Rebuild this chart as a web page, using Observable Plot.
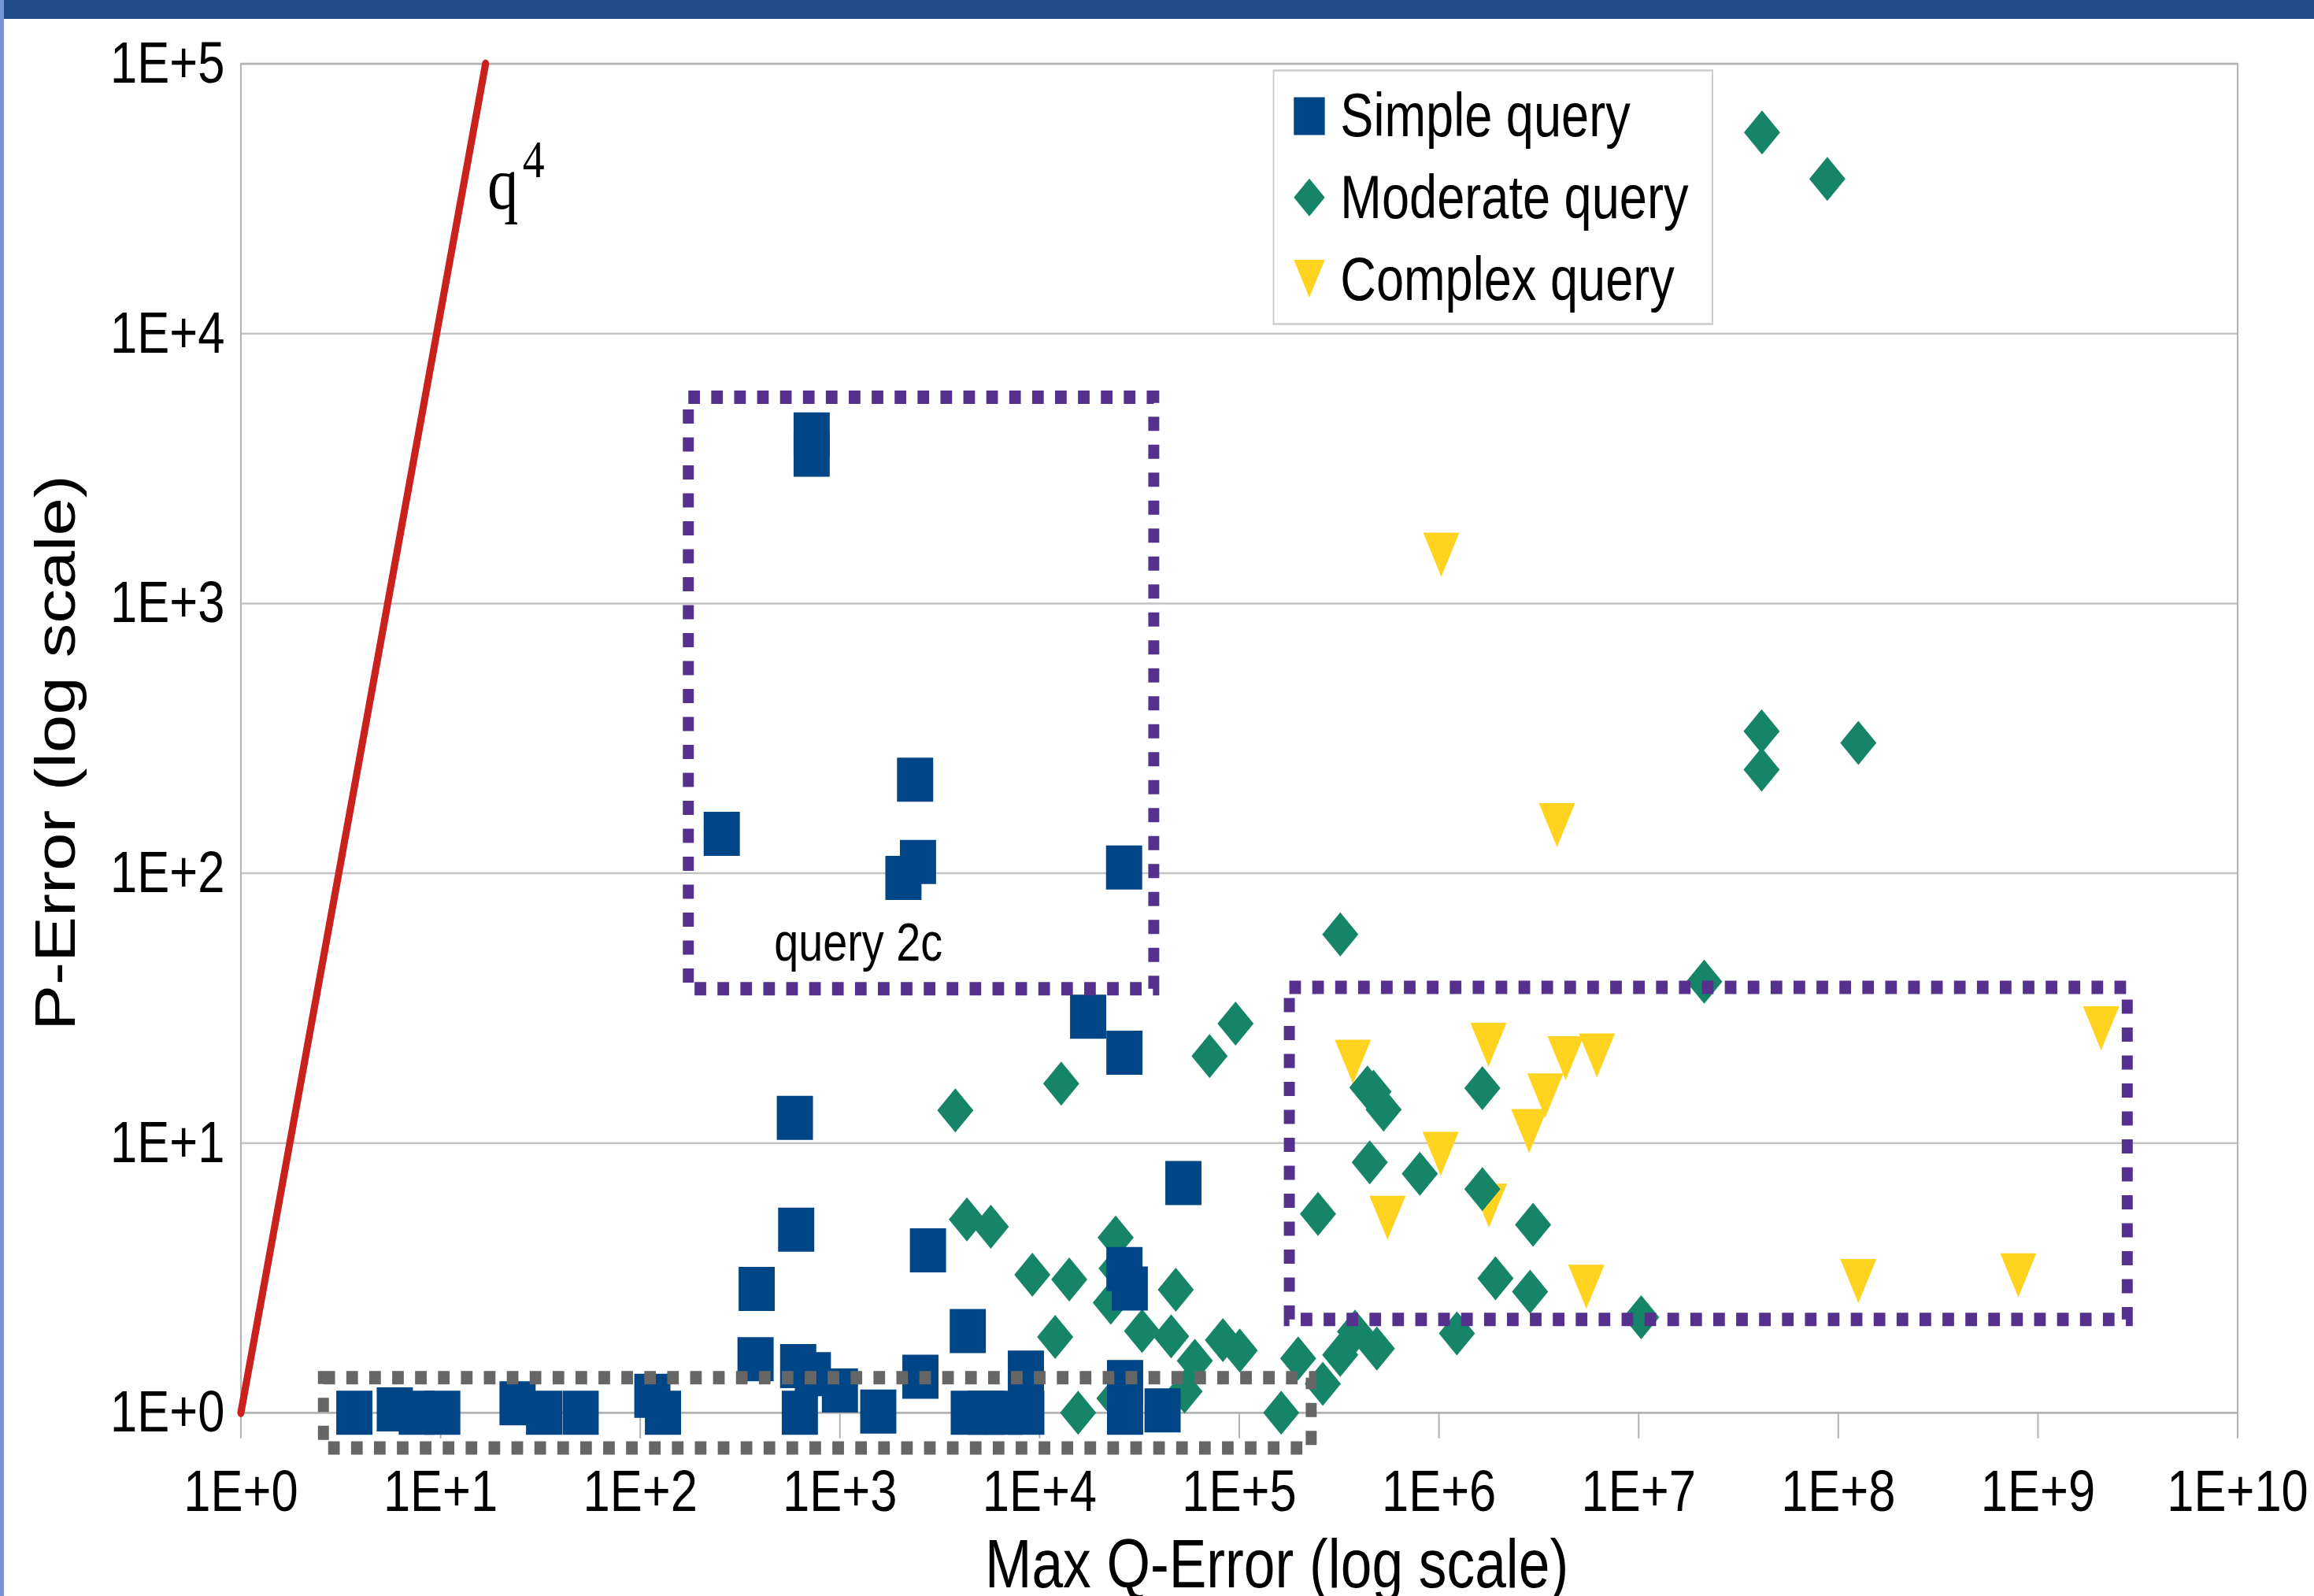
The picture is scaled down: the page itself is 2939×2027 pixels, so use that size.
<!DOCTYPE html>
<html>
<head>
<meta charset="utf-8">
<script src="https://cdn.jsdelivr.net/npm/d3@7"></script>
<script src="https://cdn.jsdelivr.net/npm/@observablehq/plot@0.6"></script>
<style>
  html, body { margin: 0; padding: 0; width: 2939px; height: 2027px; overflow: hidden; background: #ffffff; }
  #band { position: absolute; left: 0; top: 0; width: 2939px; height: 24px; background: #214a88; z-index: 5; }
  #strip { position: absolute; left: 0; top: 0; width: 5px; height: 2027px; background: #7896d6; z-index: 6; }
  #chart { position: absolute; left: 0; top: 0; width: 3584px; height: 2027px; transform: scaleX(0.82); transform-origin: 0 0; }
</style>
</head>
<body>
<div id="chart"></div>
<div id="band"></div>
<div id="strip"></div>
<script>
// ---------------- data ----------------
const xTickValues = [1, 1e1, 1e2, 1e3, 1e4, 1e5, 1e6, 1e7, 1e8, 1e9, 1e10];
const yTickValues = [1, 1e1, 1e2, 1e3, 1e4, 1e5];

const seriesNames = ["Simple query", "Moderate query", "Complex query"];
const seriesColors = ["#004586", "#168567", "#ffd320"];

// Simple query (blue squares): Max Q-Error, P-Error
const simpleQError = [722, 722, 256, 2380, 2460, 2080, 26500,
  17500, 26600, 52500, 595, 604, 383, 2760, 26600, 28300, 4370,
  378, 618, 732, 1000, 2530, 8540, 26800, 115, 24.3,
  3.7, 5.9, 7.6, 10.2, 33.0, 50.3, 130, 630, 1556, 4420, 5400, 6650, 8580, 26800, 41300];
const simplePError = [4230, 3560, 140, 222, 110, 96, 105,
  29.4, 21.6, 7.1, 12.4, 4.77, 2.88, 4.0, 3.41, 2.89, 2.01,
  1.58, 1.49, 1.39, 1.21, 1.36, 1.41, 1.30, 1.155, 1.085,
  1, 1.03, 1, 1, 1, 1, 1, 1, 1.01, 1, 1, 1, 1, 1, 1.02];

// Moderate query (green diamonds)
const moderateQError = [4.15e7, 8.81e7, 4.13e7, 4.13e7, 1.26e8, 320500, 2.13e7,
  95800, 71000, 12830, 3785, 438100, 470000, 528200, 1.65e6,
  450200, 802000, 1.65e6, 247900, 2.96e6,
  4325, 5700, 24040, 24300, 9200, 14080, 48100, 22730,
  1.92e6, 2.86e6, 1.03e7,
  11970, 32600, 45600, 59900, 53200, 82800, 100550, 15590, 23700,
  162200, 197200, 262000, 320300, 380000, 488700, 1.23e6];
const moderatePError = [55700, 37460, 336, 242, 304, 59.3, 39.6,
  27.7, 21.0, 16.6, 13.2, 16.05, 15.5, 13.3, 15.97,
  8.48, 7.69, 6.75, 5.46, 4.98,
  5.21, 4.89, 4.46, 3.43, 3.25, 3.12, 2.86, 2.56,
  3.15, 2.81, 2.26,
  1.91, 2.01, 1.92, 1.56, 1.20, 1.86, 1.70, 1.0, 1.13,
  1.0, 1.59, 1.28, 1.64, 2.0, 1.73, 1.97];

// Complex query (yellow triangles)
const complexQError = [1.027e6, 3.9e6, 370700, 1.77e6, 4.31e6, 6.18e6, 3.41e6, 2.83e6,
  1.02e6, 1.78e6, 552800, 5.47e6, 1.26e8, 7.97e8, 2.07e9];
const complexPError = [1516, 150.7, 20.0, 23.1, 20.6, 21.1, 15.0, 11.08,
  9.11, 5.86, 5.28, 2.93, 3.08, 3.23, 26.6];

// q^4 reference curve (straight on log-log axes): end points
const curveQ = [1, 16.8];
const curveP = [1, 1e5];

// highlighted regions (dotted boxes)
const purpleBoxQ1 = [174.8, 178800];
const purpleBoxQ2 = [37450, 2.81e9];
const purpleBoxP1 = [37.15, 2.21];
const purpleBoxP2 = [5790, 37.65];
const grayBoxQ = [2.6, 230100];
const grayBoxP = [0.738, 1.345];

// text annotations
const noteText = ["query 2c", "q", "4"];
const noteQ = [1236, 17.17, 25.76];
const noteP = [47.4, 29040, 38100];

// ---------------- build ----------------
const S = 0.82;            // the picture is horizontally compressed
const W = Math.round(2939 / S);
const H = 2027;

const rows = (qs, ps) => qs.map((q, i) => ({q, p: ps[i]}));
const simpleRows = rows(simpleQError, simplePError);
const moderateRows = rows(moderateQError, moderatePError);
const complexRows = rows(complexQError, complexPError);
const curveRows = rows(curveQ, curveP);
const purpleBoxes = purpleBoxQ1.map((q, i) => ({q1: q, q2: purpleBoxQ2[i], p1: purpleBoxP1[i], p2: purpleBoxP2[i]}));
const grayBoxes = [{q1: grayBoxQ[0], q2: grayBoxQ[1], p1: grayBoxP[0], p2: grayBoxP[1]}];
const notes = noteText.map((t, i) => ({t, q: noteQ[i], p: noteP[i]}));

const half = (size) => Math.sqrt(size / Math.PI);
const symbols = [
  {draw(c, size) { const h = half(size); c.rect(-h, -h, 2 * h, 2 * h); }},
  {draw(c, size) { const h = half(size); c.moveTo(0, -h); c.lineTo(h, 0); c.lineTo(0, h); c.lineTo(-h, 0); c.closePath(); }},
  {draw(c, size) { const h = half(size); c.moveTo(-h, -h); c.lineTo(h, -h); c.lineTo(0, h); c.closePath(); }}
];

const fmt = d => "1E+" + Math.round(Math.log10(d));
const sans = "'Liberation Sans', Arial, Helvetica, sans-serif";
const serif = "'Liberation Serif', 'Times New Roman', serif";

const chart = Plot.plot({
  width: W,
  height: H,
  marginLeft: 372.6,
  marginRight: 118.6,
  marginTop: 80.6,
  marginBottom: 233.2,
  style: {fontFamily: sans, background: "#ffffff", color: "#000000", overflow: "visible"},
  x: {type: "log", domain: [1, 1e10]},
  y: {type: "log", domain: [1, 1e5]},
  marks: [
    Plot.gridY(yTickValues, {stroke: "#c4c4c4", strokeOpacity: 1, strokeWidth: 2.5}),
    Plot.frame({stroke: "#b3b3b3", strokeWidth: 2.5}),
    Plot.axisX(xTickValues, {tickSize: 33, tickPadding: 38, tickFormat: fmt, fontSize: 75,
      stroke: "#b3b3b3", strokeWidth: 2.5, fill: "#000000", label: null}),
    Plot.axisY(yTickValues, {tickSize: 0, tickPadding: 25, tickFormat: fmt, fontSize: 75,
      fill: "#000000", label: null}),
    Plot.line(curveRows, {x: "q", y: "p", stroke: "#c9211e", strokeWidth: 11}),
    Plot.dot(complexRows, {x: "q", y: "p", symbol: symbols[2], r: 28, fill: seriesColors[2], stroke: "none"}),
    Plot.dot(moderateRows, {x: "q", y: "p", symbol: symbols[1], r: 28, fill: seriesColors[1], stroke: "none"}),
    Plot.dot(simpleRows, {x: "q", y: "p", symbol: symbols[0], r: 28, fill: seriesColors[0], stroke: "none"}),
    Plot.rect(purpleBoxes, {x1: "q1", x2: "q2", y1: "p1", y2: "p2", fill: "none",
      stroke: "#55308d", strokeWidth: 17, strokeDasharray: "18,17.5"}),
    Plot.rect(grayBoxes, {x1: "q1", x2: "q2", y1: "p1", y2: "p2", fill: "none",
      stroke: "#666666", strokeWidth: 17, strokeDasharray: "18,17.5"}),
    Plot.text(notes.slice(0, 1), {x: "q", y: "p", text: "t", fontSize: 68, textAnchor: "middle", lineAnchor: "bottom", fill: "#000000"}),
    Plot.text(notes.slice(1, 2), {x: "q", y: "p", text: "t", fontSize: 96, fontFamily: serif, textAnchor: "start", lineAnchor: "bottom", fill: "#000000"}),
    Plot.text(notes.slice(2, 3), {x: "q", y: "p", text: "t", fontSize: 68, fontFamily: serif, textAnchor: "start", lineAnchor: "bottom", fill: "#000000"}),
    Plot.text(["Max Q-Error (log scale)"], {text: d => d, frameAnchor: "bottom", dx: 58, dy: 222,
      textAnchor: "middle", lineAnchor: "bottom", fontSize: 87, fill: "#000000"}),
    Plot.text(["P-Error (log scale)"], {text: d => d, frameAnchor: "left", dx: -256.7, dy: 18.4,
      rotate: -90, textAnchor: "middle", lineAnchor: "bottom", fontSize: 87, fill: "#000000"})
  ]
});
document.getElementById("chart").appendChild(chart);

// ---------------- legend (inside the plot area, top right) ----------------
const leg = d3.select("#chart").append("svg")
  .style("position", "absolute").style("left", "1971px").style("top", "88px")
  .attr("width", 683).attr("height", 325);
leg.append("rect").attr("x", 1.5).attr("y", 1.5).attr("width", 680).attr("height", 322)
  .attr("fill", "#ffffff").attr("stroke", "#cccccc").attr("stroke-width", 2.5);
seriesNames.forEach((name, i) => {
  const p = d3.path();
  symbols[i].draw(p, Math.PI * 24 * 24);
  leg.append("path").attr("d", p.toString())
    .attr("transform", `translate(57,${59.5 + 103.3 * i})`)
    .attr("fill", seriesColors[i]);
  leg.append("text").attr("x", 105).attr("y", 85 + 103.8 * i)
    .attr("font-family", sans).attr("font-size", 77).attr("fill", "#000000")
    .text(name);
});
</script>
</body>
</html>
